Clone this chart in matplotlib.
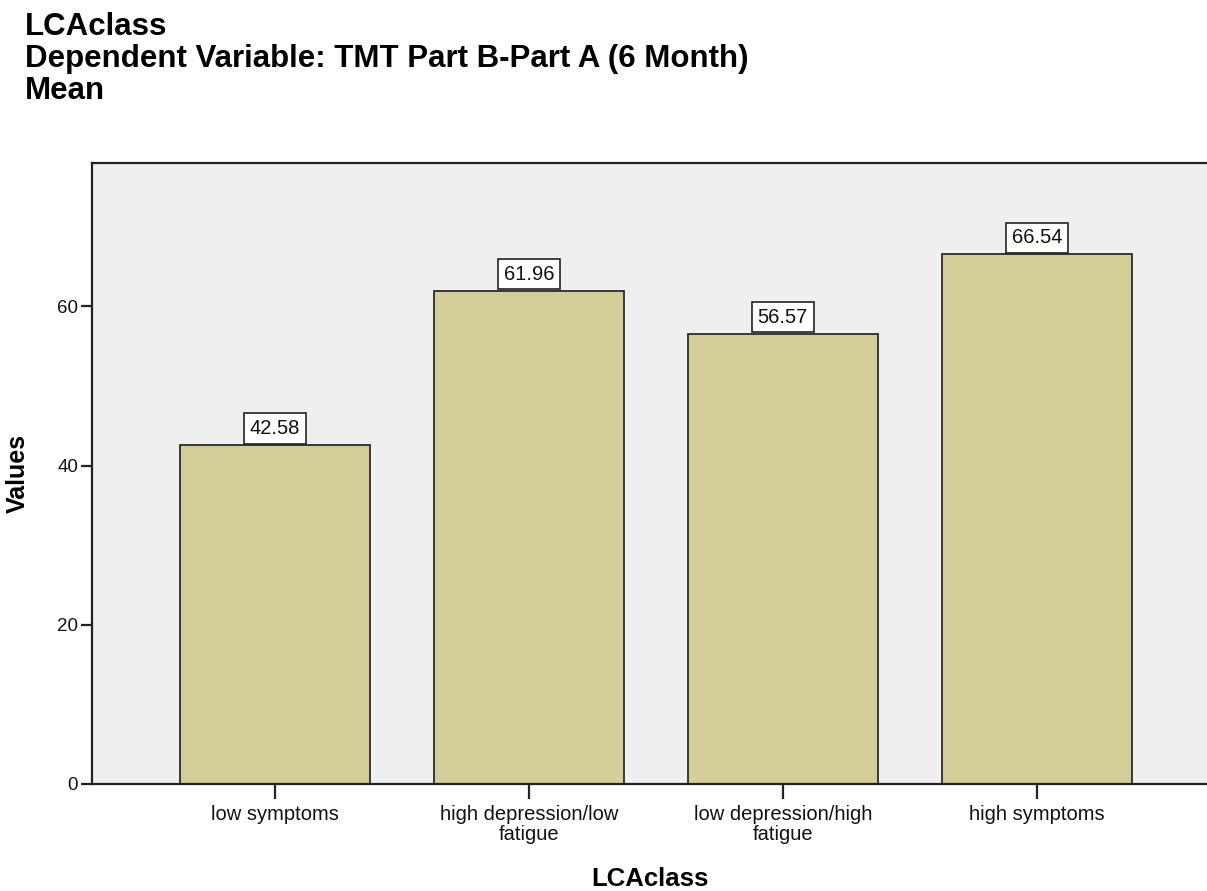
import matplotlib.pyplot as plt

plt.rcParams['font.family'] = ['Liberation Sans', 'DejaVu Sans']

categories = ['low symptoms', 'high depression/low\nfatigue',
              'low depression/high\nfatigue', 'high symptoms']
means = [42.58, 61.96, 56.57, 66.54]
yticks = [0, 20, 40, 60]

fig = plt.figure(figsize=(12.07, 8.91), dpi=100)
fig.patch.set_facecolor('white')
ax = fig.add_axes([92 / 1207, 107 / 891, 1 - 92 / 1207, (784 - 163) / 891])
ax.set_facecolor('#efefef')

x = range(len(categories))
bars = ax.bar(x, means, width=0.75, color='#d3ce98', edgecolor='#2b2b2b',
              linewidth=1.3, zorder=2)

# value boxes sitting on top of each bar
for b, v in zip(bars, means):
    ax.annotate(f'{v:.2f}', xy=(b.get_x() + b.get_width() / 2, v),
                xytext=(0, 5), textcoords='offset points',
                ha='center', va='bottom', fontsize=14.5, color='#111111',
                bbox=dict(boxstyle='square,pad=0.28', facecolor='white',
                          edgecolor='#222222', linewidth=1.2), zorder=4)

ax.set_xlim(-0.72, 3.67)
ax.set_ylim(0, 78)
ax.set_xticks(list(x))
ax.set_xticklabels(categories, fontsize=14.5, linespacing=1.05, color='#111111')
ax.set_yticks(yticks)
ax.set_yticklabels([str(t) for t in yticks], fontsize=13.5, color='#111111')
ax.tick_params(axis='x', length=11, width=1.6, color='#222222', pad=4)
ax.tick_params(axis='y', length=8, width=1.6, color='#222222', pad=2)

for side in ['left', 'bottom', 'top']:
    ax.spines[side].set_linewidth(1.6)
    ax.spines[side].set_color('#222222')
ax.spines['right'].set_visible(False)

ax.set_ylabel('Values', fontsize=18, fontweight='bold', labelpad=20)
ax.set_xlabel('LCAclass', fontsize=18.5, fontweight='bold', labelpad=17)

fig.text(25 / 1207, 1 - 12 / 891,
         'LCAclass\nDependent Variable: TMT Part B-Part A (6 Month)\nMean',
         ha='left', va='top', fontsize=22.5, fontweight='bold', linespacing=1.08)

fig.savefig('out.png', dpi=100, facecolor='white')
